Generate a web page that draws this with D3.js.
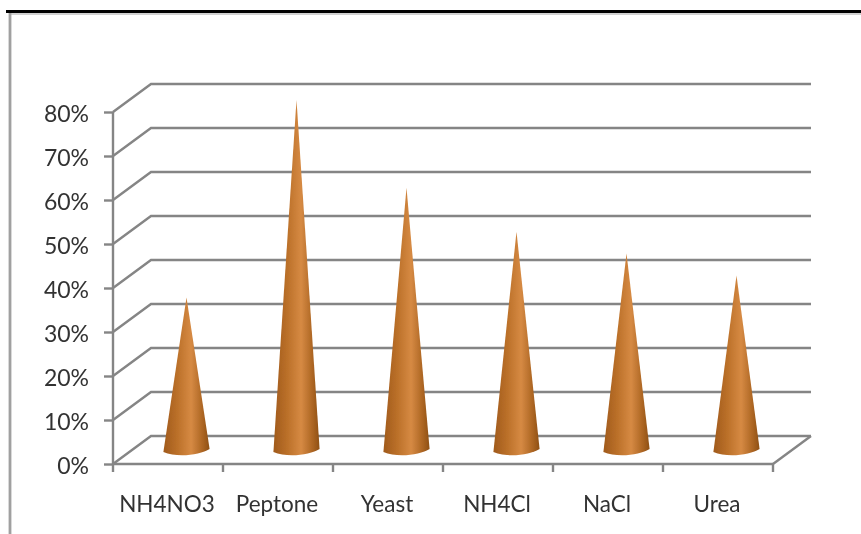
<!DOCTYPE html>
<html>
<head>
<meta charset="utf-8">
<script src="https://cdn.jsdelivr.net/npm/d3@7"></script>
<style>
  html, body { margin: 0; padding: 0; background: #fff; overflow: hidden; }
  svg { display: block; }
  text { font-family: Lato, sans-serif; fill: #333; }
</style>
</head>
<body>
<div id="chart"></div>
<script>
var categories = ['NH4NO3', 'Peptone', 'Yeast', 'NH4Cl', 'NaCl', 'Urea'];
var values = [35, 80, 60, 50, 45, 40];
var yTicks = [0, 10, 20, 30, 40, 50, 60, 70, 80];

var width = 861, height = 534;

// front plane and back plane of the 3d box
var depthX = 38;
var x = d3.scaleBand().domain(categories).range([113, 773]).paddingInner(0).paddingOuter(0);
var yFront = d3.scaleLinear().domain([0, 80]).range([464, 112]);
var yBack = d3.scaleLinear().domain([0, 80]).range([436, 84]);
// the cones stand half way back
var yMid = d3.scaleLinear().domain([0, 80]).range([451, 100]);

var svg = d3.select('#chart').append('svg')
  .attr('width', width)
  .attr('height', height);

var defs = svg.append('defs');

defs.append('filter').attr('id', 'soft')
  .append('feGaussianBlur').attr('stdDeviation', 0.6);

var grad = defs.append('linearGradient').attr('id', 'cone')
  .attr('x1', 0).attr('x2', 1).attr('y1', 0).attr('y2', 0);
grad.append('stop').attr('offset', '0%').attr('stop-color', '#a05a1c');
grad.append('stop').attr('offset', '30%').attr('stop-color', '#bb7029');
grad.append('stop').attr('offset', '60%').attr('stop-color', '#d68a43');
grad.append('stop').attr('offset', '85%').attr('stop-color', '#ac6522');
grad.append('stop').attr('offset', '100%').attr('stop-color', '#8e5015');

var page = svg.append('g').attr('filter', 'url(#soft)');

// page rules around the figure
page.append('line').attr('x1', 6).attr('x2', width).attr('y1', 11.5).attr('y2', 11.5)
  .attr('stroke', '#000').attr('stroke-width', 3);
page.append('line').attr('x1', 10).attr('x2', width).attr('y1', 14).attr('y2', 14)
  .attr('stroke', '#c0c0c0').attr('stroke-width', 1.4);
page.append('line').attr('x1', 10).attr('x2', 10).attr('y1', 13).attr('y2', height)
  .attr('stroke', '#a0a0a0').attr('stroke-width', 2.8);

// gridlines: side wall then back wall
var gridColor = '#858585';
var gridWidth = 2.4;
page.append('g').selectAll('path')
  .data(yTicks)
  .join('path')
  .attr('fill', 'none')
  .attr('stroke', gridColor)
  .attr('stroke-width', gridWidth)
  .attr('d', function(d){
    return d3.line()([[113, yFront(d)], [113 + depthX, yBack(d)], [773 + depthX, yBack(d)]]);
  });

// floor, right edge
page.append('path')
  .attr('fill', 'none')
  .attr('stroke', gridColor)
  .attr('stroke-width', gridWidth)
  .attr('d', d3.line()([[773, yFront(0)], [773 + depthX, yBack(0)]]));

// y axis
var yAxis = page.append('g')
  .attr('transform', 'translate(113,0)')
  .call(d3.axisLeft(yFront).tickValues(yTicks).tickSize(9).tickPadding(15)
    .tickFormat(function(d){ return d + '%'; }));
yAxis.selectAll('path, line').attr('stroke', gridColor).attr('stroke-width', gridWidth);
yAxis.select('.domain').attr('d', d3.line()([[0, yFront(0)], [0, yFront(80)]]));
yAxis.selectAll('text')
  .attr('font-size', 23)
  .attr('dy', '0.42em')
  .style('font-family', 'Lato, sans-serif')
  .attr('fill', '#333');

// x axis
var xAxis = page.append('g')
  .attr('transform', 'translate(0,' + yFront(0) + ')')
  .call(d3.axisBottom(x).tickSize(0).tickPadding(32));
xAxis.selectAll('path').attr('stroke', gridColor).attr('stroke-width', gridWidth)
  .attr('d', d3.line()([[113, 0], [773, 0]]));
xAxis.selectAll('text')
  .attr('font-size', 22.5)
  .attr('dx', -1)
  .style('font-family', 'Lato, sans-serif')
  .attr('fill', '#333');

var xEdges = categories.map(function(c){ return x(c); }).concat([x.range()[1]]);
xAxis.append('g').selectAll('line')
  .data(xEdges)
  .join('line')
  .attr('x1', function(d){ return d; })
  .attr('x2', function(d){ return d; })
  .attr('y1', 0)
  .attr('y2', 8)
  .attr('stroke', gridColor)
  .attr('stroke-width', gridWidth);

// cones
var halfBase = x.bandwidth() * 0.21;
page.append('g').selectAll('path')
  .data(categories)
  .join('path')
  .attr('fill', 'url(#cone)')
  .attr('d', function(c, i){
    var cx = x(c) + x.bandwidth() / 2 + depthX / 2 - 0.5;
    var p = d3.path();
    p.moveTo(cx, yMid(values[i]));
    p.lineTo(cx + halfBase, yMid(0) - 2);
    p.bezierCurveTo(cx + halfBase * 0.6, yMid(0) + 4, cx - halfBase * 0.4, yMid(0) + 7, cx - halfBase, yMid(0) + 1);
    p.closePath();
    return p.toString();
  });
</script>
</body>
</html>
